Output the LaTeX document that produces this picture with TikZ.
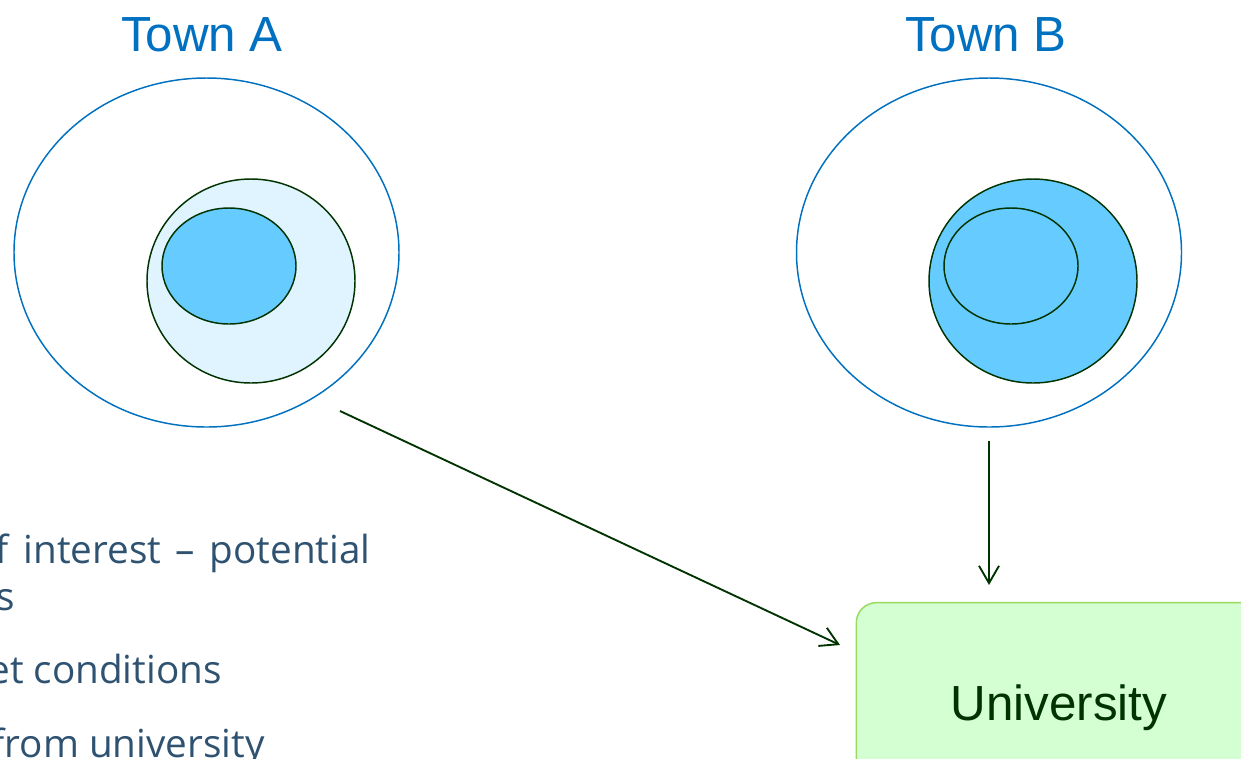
\documentclass[tikz,border=0pt]{standalone}
\usepackage{fontspec}
\setmainfont{Liberation Sans}
\newfontfamily\bodyfont{Open Sans}
\usetikzlibrary{arrows.meta}
\definecolor{townblue}{HTML}{0070C0}
\definecolor{darkgrn}{HTML}{003300}
\definecolor{palecyan}{HTML}{E0F4FF}
\definecolor{skyfill}{HTML}{66CCFF}
\definecolor{univfill}{HTML}{D3FFD3}
\definecolor{univline}{HTML}{99D95C}
\definecolor{bodytext}{HTML}{2E5270}
\tikzset{
  outerring/.style={draw=townblue, line width=1.1pt},
  innerring/.style={draw=darkgrn, line width=1.1pt},
  townlabel/.style={text=townblue, font=\fontsize{37}{42}\selectfont, inner sep=0pt},
  flow/.style={draw=darkgrn, line width=1.4pt, -{Straight Barb[length=13pt,width=15pt,line width=1.4pt]}},
  univbox/.style={draw=univline, fill=univfill, line width=1.1pt, rounded corners=15pt,
    minimum width=304pt, minimum height=158pt, inner sep=0pt, text=darkgrn,
    font=\fontsize{37}{42}\selectfont},
  sidetext/.style={text=bodytext, font=\bodyfont\fontsize{29}{34}\selectfont, inner sep=0pt, anchor=base east}
}
\begin{document}
\begin{tikzpicture}[x=0.75pt,y=-0.75pt]
\useasboundingbox (0,0) rectangle (1241,758);
\clip (0,0) rectangle (1241,758);
% Town A
\draw[outerring] (206.5,252.5) ellipse [x radius=192.5, y radius=174.5];
\draw[innerring, fill=palecyan] (251,281) ellipse [x radius=104, y radius=102];
\draw[innerring, fill=skyfill] (229,266) ellipse [x radius=67, y radius=58];
% Town B
\draw[outerring] (989,252.5) ellipse [x radius=192.5, y radius=174.5];
\draw[innerring, fill=skyfill] (1033,281) ellipse [x radius=104, y radius=102];
\draw[innerring] (1011,266) ellipse [x radius=67, y radius=58];
% labels
\node[townlabel] (townA) at (202,35) {Town A};
\node[townlabel] (townB) at (986,35) {Town B};
% university
\node[univbox] (univ) at (1059,708) {University};
% connectors
\coordinate (aout) at (340,411);
\coordinate (ain) at (840,645);
\coordinate (bout) at (989,441);
\coordinate (bin) at (989,585);
\draw[flow] (aout) -- (ain);
\draw[flow] (bout) -- (bin);
% side text
\node[sidetext] (t1) at (371,563) {\spaceskip=0.38em f interest – potential};
\node[sidetext] (t2) at (15,610) {s};
\node[sidetext] (t3) at (222,683) {et conditions};
\node[sidetext] (t4) at (265,757) {from university};
\end{tikzpicture}
\end{document}
